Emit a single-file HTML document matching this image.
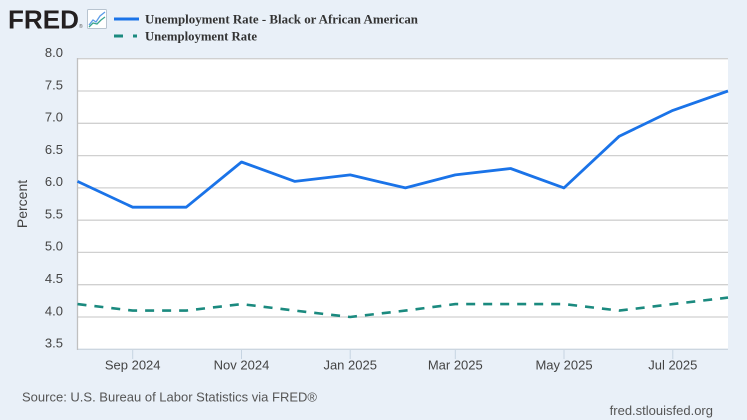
<!DOCTYPE html>
<html><head><meta charset="utf-8"><style>
html,body{margin:0;padding:0;background:#e9f0f8;}
svg{display:block;}
</style></head><body>
<svg width="747" height="420" viewBox="0 0 747 420" xmlns="http://www.w3.org/2000/svg">
<rect x="0" y="0" width="747" height="420" fill="#e9f0f8"/>
<!-- logo -->
<text x="8" y="28.5" font-family="Liberation Sans, sans-serif" font-weight="bold" font-size="26" fill="#231f20" textLength="71" lengthAdjust="spacingAndGlyphs">FRED</text>
<text x="79" y="28" font-family="Liberation Sans, sans-serif" font-size="5" fill="#555">®</text>
<rect x="87.5" y="9.5" width="19" height="19" fill="#fff" stroke="#b8c4d0" stroke-width="1" rx="1"/>
<polyline points="89,25 93,20 96,22 100,16 105,12" fill="none" stroke="#5b9be8" stroke-width="1.3"/>
<polyline points="89,27 93,23 97,24 101,20 105,17" fill="none" stroke="#3aa58f" stroke-width="1.3"/>
<!-- legend -->
<line x1="114" y1="19" x2="139" y2="19" stroke="#1a73e8" stroke-width="3"/>
<text x="145" y="23.5" font-family="Liberation Serif, serif" font-weight="bold" font-size="12.5" fill="#333" textLength="273" lengthAdjust="spacingAndGlyphs">Unemployment Rate - Black or African American</text>
<line x1="114" y1="36" x2="123" y2="36" stroke="#1b8a7f" stroke-width="3"/>
<line x1="133" y1="36" x2="137" y2="36" stroke="#1b8a7f" stroke-width="3"/>
<text x="145" y="40.5" font-family="Liberation Serif, serif" font-weight="bold" font-size="12.5" fill="#333" textLength="112" lengthAdjust="spacingAndGlyphs">Unemployment Rate</text>
<!-- plot area -->
<rect x="77.5" y="58.7" width="650.5" height="290.6" fill="#fff"/>
<g stroke="#d0d0d0" stroke-width="1.3">
<line x1="77.5" y1="58.7" x2="728" y2="58.7"/>
<line x1="77.5" y1="91" x2="728" y2="91"/>
<line x1="77.5" y1="123.3" x2="728" y2="123.3"/>
<line x1="77.5" y1="155.6" x2="728" y2="155.6"/>
<line x1="77.5" y1="187.9" x2="728" y2="187.9"/>
<line x1="77.5" y1="220.2" x2="728" y2="220.2"/>
<line x1="77.5" y1="252.4" x2="728" y2="252.4"/>
<line x1="77.5" y1="284.7" x2="728" y2="284.7"/>
<line x1="77.5" y1="317" x2="728" y2="317"/>
</g>
<line x1="77.5" y1="349.3" x2="728" y2="349.3" stroke="#ccd6e0" stroke-width="1.3"/>
<line x1="77.5" y1="58" x2="77.5" y2="350" stroke="#c0c0c0" stroke-width="1.3"/>
<g stroke="#c6d4e2" stroke-width="1">
<line x1="132.7" y1="350" x2="132.7" y2="359"/>
<line x1="241.5" y1="350" x2="241.5" y2="359"/>
<line x1="350.2" y1="350" x2="350.2" y2="359"/>
<line x1="455.3" y1="350" x2="455.3" y2="359"/>
<line x1="564" y1="350" x2="564" y2="359"/>
<line x1="672.8" y1="350" x2="672.8" y2="359"/>
</g>
<!-- y labels -->
<g font-family="Liberation Sans, sans-serif" font-size="13" fill="#444" text-anchor="end">
<text x="63" y="57">8.0</text>
<text x="63" y="89.3">7.5</text>
<text x="63" y="121.6">7.0</text>
<text x="63" y="153.9">6.5</text>
<text x="63" y="186.2">6.0</text>
<text x="63" y="218.5">5.5</text>
<text x="63" y="250.7">5.0</text>
<text x="63" y="283">4.5</text>
<text x="63" y="315.3">4.0</text>
<text x="63" y="347.6">3.5</text>
</g>
<text transform="translate(27,204) rotate(-90)" font-family="Liberation Sans, sans-serif" font-size="14" fill="#444" text-anchor="middle">Percent</text>
<!-- x labels -->
<g font-family="Liberation Sans, sans-serif" font-size="13" fill="#444" text-anchor="middle">
<text x="132.7" y="369.5">Sep 2024</text>
<text x="241.5" y="369.5">Nov 2024</text>
<text x="350.2" y="369.5">Jan 2025</text>
<text x="455.3" y="369.5">Mar 2025</text>
<text x="564" y="369.5">May 2025</text>
<text x="672.8" y="369.5">Jul 2025</text>
</g>
<!-- series -->
<polyline fill="none" stroke="#1b8a7f" stroke-width="2.6" stroke-dasharray="9,8" points="77.5,304.1 132.7,310.6 186.2,310.6 241.5,304.1 294.9,310.6 350.2,317 405.4,310.6 455.3,304.1 510.6,304.1 564,304.1 619.3,310.6 672.8,304.1 728,297.6"/>
<polyline fill="none" stroke="#1a73e8" stroke-width="2.8" stroke-linejoin="round" points="77.5,181.4 132.7,207.2 186.2,207.2 241.5,162 294.9,181.4 350.2,174.9 405.4,187.9 455.3,174.9 510.6,168.5 564,187.9 619.3,136.2 672.8,110.4 728,91"/>
<!-- footer -->
<text x="22" y="401.5" font-family="Liberation Sans, sans-serif" font-size="13" fill="#555">Source: U.S. Bureau of Labor Statistics via FRED®</text>
<text x="713" y="415" font-family="Liberation Sans, sans-serif" font-size="13" fill="#555" text-anchor="end">fred.stlouisfed.org</text>
</svg>
</body></html>
